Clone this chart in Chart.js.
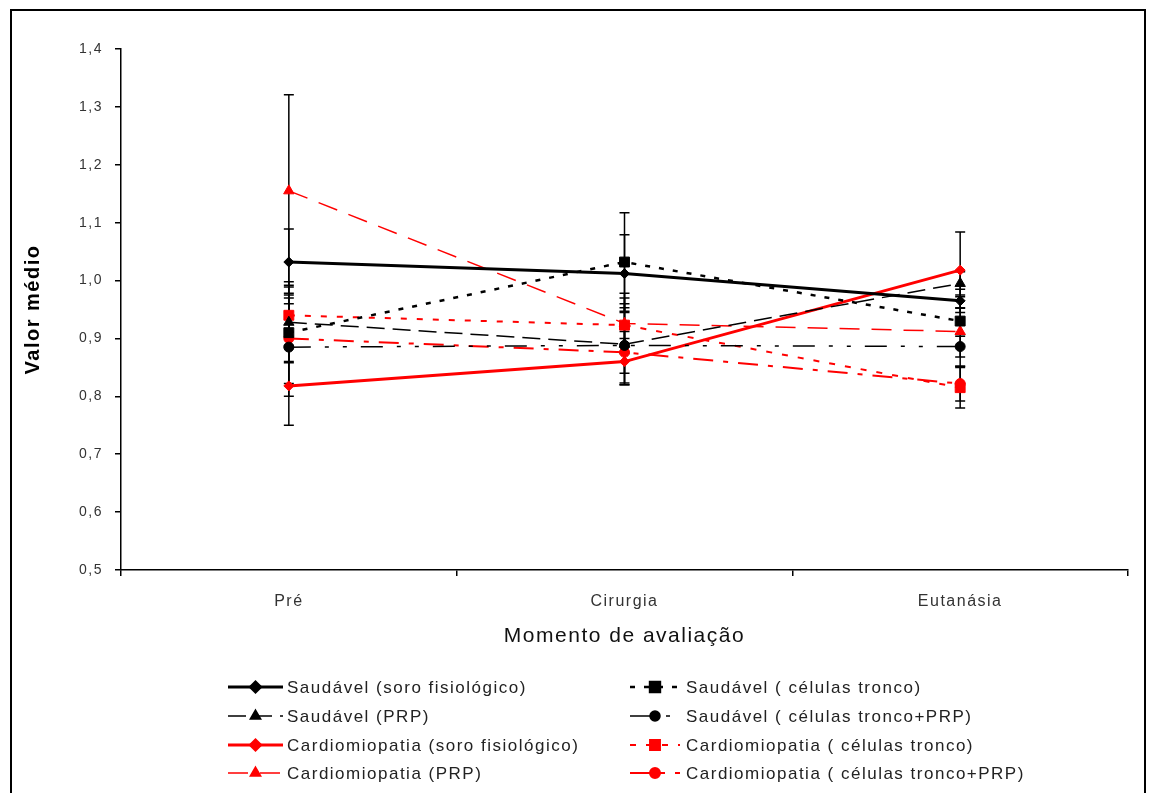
<!DOCTYPE html>
<html>
<head>
<meta charset="utf-8">
<script src="https://cdn.jsdelivr.net/npm/chart.js@4/dist/chart.umd.min.js"></script>
<style>
  html, body { margin: 0; padding: 0; background: #fff; overflow: hidden; }
  #wrap { position: relative; width: 1150px; height: 793px; }
  #frame { position: absolute; left: 10px; top: 9px; width: 1136px; height: 800px;
           border: 2px solid #000; border-bottom: none; box-sizing: border-box; }
  canvas { position: absolute; left: 0; top: 0; }
</style>
</head>
<body>
<div id="wrap">
  <div id="frame"></div>
  <canvas id="chart" width="1150" height="793"></canvas>
</div>
<script>
// ---- data ----
const categories = ['Pré', 'Cirurgia', 'Eutanásia'];
const yTickValues = [0.5, 0.6, 0.7, 0.8, 0.9, 1.0, 1.1, 1.2, 1.3, 1.4];

const saudSoro      = [1.032, 1.012, 0.965];
const saudSoroErr   = [0.057, 0.067, 0.020];
const saudCT        = [0.910, 1.032, 0.930];
const saudCTErr     = [0.050, 0.085, 0.023];
const saudPRP       = [0.928, 0.890, 0.995];
const saudPRPErr    = [0.070, 0.070, 0.020];
const saudCTPRP     = [0.885, 0.888, 0.886];
const saudCTPRPErr  = [0.085, 0.065, 0.018];
const cardSoro      = [0.818, 0.860, 1.018];
const cardSoroErr   = [0.068, 0.040, 0.066];
const cardCT        = [0.940, 0.923, 0.815];
const cardCTErr     = [0.052, 0.047, 0.035];
const cardPRP       = [1.155, 0.926, 0.912];
const cardPRPErr    = [0.166, 0.052, 0.060];
const cardCTPRP     = [0.900, 0.876, 0.822];
const cardCTPRPErr  = [0.078, 0.036, 0.030];

const FONT = "'Liberation Sans', Arial, sans-serif";
const RED = '#ff0000';

function series(label, data, errors, color, width, dash, pointStyle, radius) {
  return {
    label, data, errors,
    borderColor: color, backgroundColor: color,
    borderWidth: width, borderDash: dash,
    pointStyle, pointRadius: radius, pointBorderWidth: 1,
    pointBorderColor: color, pointBackgroundColor: color,
    tension: 0, fill: false
  };
}

// order = legend order (row by row, two columns)
const datasets = [
  series('Saudável (soro fisiológico)', saudSoro, saudSoroErr, '#000', 3, [], 'rectRot', 5),
  series('Saudável ( células tronco)', saudCT, saudCTErr, '#000', 2.5, [5, 9], 'rect', 7),
  series('Saudável (PRP)', saudPRP, saudPRPErr, '#000', 1.5, [18, 8], 'triangle', 6),
  series('Saudável ( células tronco+PRP)', saudCTPRP, saudCTPRPErr, '#000', 1.5, [22, 14, 4, 14, 4, 14], 'circle', 5),
  series('Cardiomiopatia (soro fisiológico)', cardSoro, cardSoroErr, RED, 3, [], 'rectRot', 5),
  series('Cardiomiopatia ( células tronco)', cardCT, cardCTErr, RED, 2, [6, 10], 'rect', 7),
  series('Cardiomiopatia (PRP)', cardPRP, cardPRPErr, RED, 1.5, [20, 12], 'triangle', 6),
  series('Cardiomiopatia ( células tronco+PRP)', cardCTPRP, cardCTPRPErr, RED, 2, [20, 10, 5, 10], 'circle', 5)
];

// letter spacing like the original export
const spacing = {
  id: 'spacing',
  beforeDraw(chart) { chart.ctx.letterSpacing = '1.5px'; }
};

// vertical error bars drawn through the y scale
const errorBars = {
  id: 'errorBars',
  beforeDatasetsDraw(chart) {
    const { ctx, scales: { y } } = chart;
    ctx.save();
    ctx.strokeStyle = '#000';
    ctx.lineWidth = 1.5;
    ctx.setLineDash([]);
    chart.data.datasets.forEach((ds, i) => {
      chart.getDatasetMeta(i).data.forEach((pt, j) => {
        const v = ds.data[j], e = ds.errors[j];
        const top = y.getPixelForValue(v + e), bot = y.getPixelForValue(v - e);
        ctx.beginPath();
        ctx.moveTo(pt.x, top); ctx.lineTo(pt.x, bot);
        ctx.moveTo(pt.x - 5, top); ctx.lineTo(pt.x + 5, top);
        ctx.moveTo(pt.x - 5, bot); ctx.lineTo(pt.x + 5, bot);
        ctx.stroke();
      });
    });
    ctx.restore();
  }
};

// two-column legend below the axis
const legendBox = {
  id: 'legendBox',
  afterDraw(chart) {
    const ctx = chart.ctx;
    const rows = [687, 716, 745, 773];
    const cols = [{ x0: 228, x1: 283, tx: 287 }, { x0: 630, x1: 680, tx: 686 }];
    ctx.save();
    chart.data.datasets.forEach((ds, i) => {
      const c = cols[i % 2], yy = rows[Math.floor(i / 2)];
      ctx.strokeStyle = ds.borderColor;
      ctx.lineWidth = ds.borderWidth;
      ctx.setLineDash(ds.borderDash);
      ctx.beginPath();
      ctx.moveTo(c.x0, yy); ctx.lineTo(c.x1, yy);
      ctx.stroke();
      ctx.setLineDash([]);
      ctx.fillStyle = ds.borderColor;
      Chart.helpers.drawPoint(ctx, { pointStyle: ds.pointStyle, radius: ds.pointRadius, rotation: 0, borderWidth: 1 },
        (c.x0 + c.x1) / 2, yy);
      ctx.fillStyle = '#222';
      ctx.font = '17px ' + FONT;
      ctx.textBaseline = 'middle';
      ctx.textAlign = 'left';
      ctx.fillText(ds.label, c.tx, yy + 1);
    });
    ctx.restore();
  }
};

new Chart(document.getElementById('chart').getContext('2d'), {
  type: 'line',
  data: { labels: categories, datasets },
  options: {
    responsive: false,
    animation: false,
    devicePixelRatio: 1,
    layout: { padding: { left: 10, right: 22, top: 49, bottom: 144 } },
    plugins: { legend: { display: false }, tooltip: { enabled: false } },
    scales: {
      x: {
        type: 'category',
        offset: true,
        grid: { offset: true, drawOnChartArea: false, color: '#000', tickLength: 6, lineWidth: 1.5 },
        border: { color: '#000', width: 1.5 },
        ticks: { color: '#333', font: { family: FONT, size: 16 }, padding: 16 },
        title: { display: true, text: 'Momento de avaliação', color: '#111',
                 font: { family: FONT, size: 21 }, padding: { top: 0, bottom: 0 } },
        afterFit(s) { s.height = 79; }
      },
      y: {
        min: 0.5, max: 1.4,
        afterBuildTicks(s) { s.ticks = yTickValues.map(v => ({ value: v })); },
        grid: { drawOnChartArea: false, color: '#000', tickLength: 6, lineWidth: 1.5 },
        border: { color: '#000', width: 1.5 },
        ticks: { color: '#333', font: { family: FONT, size: 14 }, padding: 12,
                 callback: v => v.toFixed(1).replace('.', ',') },
        title: { display: true, text: 'Valor médio', color: '#000',
                 font: { family: FONT, size: 20, weight: 'bold' }, padding: { top: 11, bottom: 0 } },
        afterFit(s) { s.width = 111; }
      }
    }
  },
  plugins: [spacing, errorBars, legendBox]
});
</script>
</body>
</html>
